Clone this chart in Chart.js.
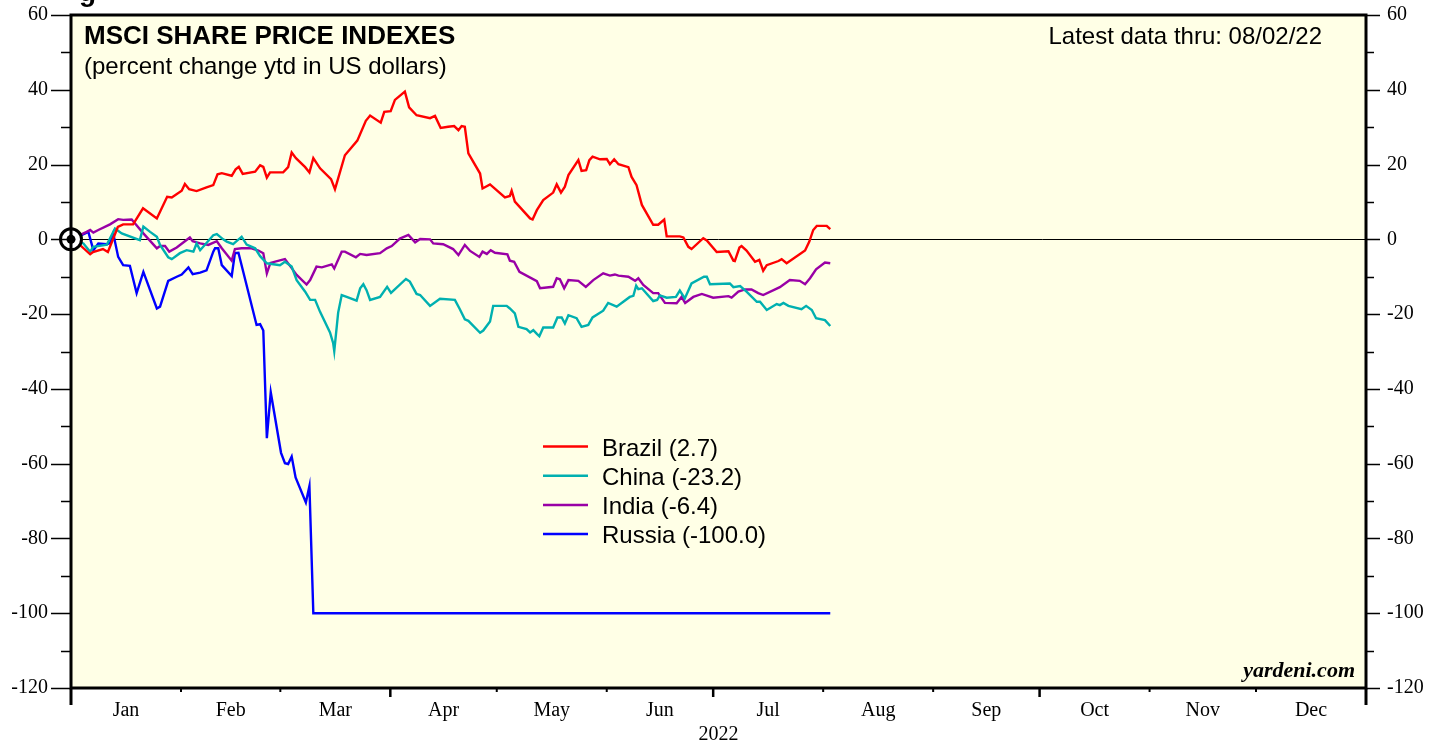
<!DOCTYPE html>
<html>
<head>
<meta charset="utf-8">
<script src="https://cdn.jsdelivr.net/npm/chart.js@4/dist/chart.umd.min.js"></script>
<style>
html,body{margin:0;padding:0;background:#ffffff;}
#wrap{width:1442px;height:744px;position:relative;}
</style>
</head>
<body>
<div id="wrap"><canvas id="c"></canvas></div>
<script>
// ---- data (x = day of year 2022, Jan 1 = 0) ----
const monthLabels = ['Jan','Feb','Mar','Apr','May','Jun','Jul','Aug','Sep','Oct','Nov','Dec'];
const monthStarts = [0,31,59,90,120,151,181,212,243,273,304,334,365];
const yearLabel = '2022';

const seriesNames = ['Brazil','China','India','Russia'];
const lastValues = [2.7,-23.2,-6.4,-100.0];
const seriesColors = ['#ff0000','#00b0b0','#9900a6','#0000ff'];

const brazilDays = [0,2.5,5.4,6.2,9.0,10.4,13.2,14.7,17.5,20.3,24.2,27.1,28.4,31.2,32.1,33.3,35.4,38.2,40.1,41.3,42.5,45.3,46.4,47.3,48.4,51.9,53.3,54.2,55.2,56.1,59.8,61.2,62.2,63.4,66.0,67.2,68.3,70.2,73.3,74.4,75.3,77.2,80.7,83.1,84.3,87.3,88.3,90.1,91.3,94.1,95.3,97.4,101.2,102.6,104.2,106.3,108.0,109.2,110.1,111.0,112.0,115.3,116.0,118.1,122.3,123.7,124.2,125.1,129.4,130.1,131.3,133.1,135.9,136.9,138.1,139.2,140.2,143.0,143.9,145.2,146.1,147.0,149.1,151.0,151.9,153.1,154.3,157.1,158.0,159.4,160.9,164.1,165.5,167.2,167.9,171.6,172.6,174.0,174.9,178.2,179.2,182.0,185.3,186.7,187.1,188.4,189.0,190.4,192.8,194.0,195.1,196.1,199.4,200.3,201.7,206.9,208.1,209.2,210.2,213.0,214.0];
const brazilValues = [0,-1.5,-4.0,-3.4,-2.6,-3.4,3.3,4.0,4.0,8.3,5.6,11.4,11.2,13.0,14.8,13.4,12.9,13.9,14.5,17.4,17.7,17.0,18.7,19.4,17.5,18.1,19.8,19.4,16.5,17.9,17.9,19.3,23.2,21.7,19.3,17.9,21.7,19.0,16.1,13.4,16.3,22.5,26.4,31.7,33.1,31.2,34.1,34.3,37.3,39.5,35.3,33.2,32.4,33.0,29.8,30.1,30.3,29.2,30.3,30.1,23.0,17.6,13.6,14.7,11.2,11.6,13.0,10.1,5.6,5.3,7.8,10.5,12.5,14.7,12.5,14.1,17.2,21.2,18.3,18.5,21.2,22.1,21.4,21.5,20.1,21.4,20.1,19.3,16.7,14.5,9.2,3.9,3.9,5.3,0.8,0.8,0.5,-2.0,-2.6,0.3,-0.3,-3.4,-3.2,-5.7,-5.8,-2.2,-1.8,-3.0,-6.0,-5.5,-8.4,-6.9,-5.8,-5.3,-6.4,-3.0,-0.6,2.5,3.6,3.6,2.7];

const chinaDays = [0,3.5,5.4,6.3,10.1,12.4,14.3,19.4,20.4,22.3,24.2,25.1,27.4,28.4,30.7,32.6,34.5,35.4,36.4,40.1,41.1,42.9,43.9,45.7,48.1,49.5,51.9,53.3,55.2,58.9,60.3,62.2,63.6,66.0,67.4,68.8,70.2,73.0,73.9,74.2,75.3,76.3,77.7,80.5,81.5,82.4,83.3,84.3,87.1,89.1,90.2,94.4,95.5,97.4,98.4,101.2,104.0,108.2,109.6,111.0,112.0,115.3,116.2,118.1,119.0,122.8,123.7,125.1,126.1,128.4,129.4,130.3,131.3,132.0,133.1,135.9,137.1,138.3,139.2,140.2,142.5,143.9,145.8,147.0,150.0,151.4,153.8,157.5,158.5,159.3,159.9,160.9,164.1,165.2,166.0,167.9,170.5,171.6,173.0,174.9,178.4,179.2,180.1,185.7,186.7,188.6,190.4,193.3,194.2,196.1,198.9,199.8,200.8,202.2,205.9,207.2,208.8,210.0,212.5,214.0];
const chinaValues = [0,-1.1,-3.3,-2.0,-1.4,2.9,1.6,-0.2,3.4,2.0,0.7,-1.5,-4.8,-5.3,-3.7,-2.9,-3.3,-1.1,-2.9,1.1,1.4,0.0,-0.6,-1.3,0.7,-1.4,-2.4,-4.5,-6.4,-6.9,-6.0,-7.3,-10.9,-14.0,-16.2,-16.2,-19.4,-24.9,-27.8,-29.9,-19.6,-14.9,-15.4,-16.4,-13.1,-12.0,-13.6,-16.2,-15.4,-12.7,-14.3,-10.6,-11.3,-14.6,-14.9,-17.8,-15.9,-16.2,-18.7,-21.4,-21.8,-25.0,-24.4,-22.0,-17.8,-17.8,-18.5,-19.8,-23.4,-24.0,-24.9,-24.3,-25.3,-25.9,-23.6,-23.6,-20.9,-20.9,-22.5,-20.3,-21.1,-23.4,-22.9,-20.9,-19.1,-17.0,-18.0,-15.4,-15.1,-12.4,-13.3,-13.1,-16.5,-16.2,-15.0,-15.6,-15.4,-13.7,-15.8,-11.8,-10.0,-10.0,-12.0,-11.8,-12.8,-12.5,-14.0,-16.7,-16.7,-18.9,-17.3,-17.6,-17.0,-17.8,-18.7,-17.8,-18.9,-21.1,-21.6,-23.2];

const indiaDays = [0,4.4,5.4,6.3,7.7,11.0,13.3,14.7,17.1,18.0,20.4,24.2,25.1,26.5,27.7,29.8,33.5,34.3,36.4,38.7,41.1,42.5,45.3,46.2,48.1,50.9,52.8,54.2,55.2,56.2,59.4,60.3,62.2,63.6,66.4,67.4,69.2,70.7,73.5,74.2,76.3,77.2,80.3,81.5,83.3,87.1,89.0,90.4,92.7,95.1,97.0,98.4,101.2,102.1,104.9,107.7,109.2,111.0,112.5,115.1,116.0,117.2,118.3,119.5,123.0,123.7,124.9,126.4,131.3,132.2,135.9,136.9,137.8,139.0,140.2,143.0,145.1,147.2,150.0,151.9,153.3,154.3,157.1,159.0,159.9,161.3,164.1,165.5,167.4,170.7,172.1,173.1,175.4,177.8,181.0,185.3,186.2,188.1,190.0,191.8,193.7,195.1,199.8,202.6,205.4,206.9,208.3,210.0,212.5,214.0];
const indiaValues = [0,2.0,2.5,1.8,2.5,4.0,5.4,5.2,5.3,4.3,1.6,-2.4,-1.8,-1.8,-3.3,-2.2,0.5,-0.5,-1.1,-1.5,-0.5,-2.4,-5.7,-2.6,-2.4,-2.4,-3.0,-3.7,-9.1,-6.3,-5.5,-5.3,-7.7,-9.5,-12.1,-10.9,-7.3,-7.5,-6.7,-7.8,-3.3,-3.3,-4.8,-3.9,-4.2,-3.7,-2.4,-1.8,0.2,1.2,-0.8,0.1,0.0,-1.1,-1.3,-2.6,-4.2,-1.5,-3.1,-4.7,-3.3,-3.9,-2.9,-3.6,-4.0,-5.7,-6.0,-8.7,-11.2,-13.1,-12.7,-10.4,-10.7,-13.1,-10.9,-11.1,-12.7,-10.9,-9.1,-9.7,-9.4,-9.7,-10.0,-11.1,-10.4,-12.2,-14.4,-14.4,-17.0,-17.1,-15.4,-17.0,-15.4,-14.6,-15.6,-15.2,-15.6,-14.0,-13.4,-13.4,-14.4,-14.9,-12.8,-10.9,-11.1,-12.0,-10.4,-8.0,-6.2,-6.4];

const russiaDays = [0,2.5,4.9,6.3,7.7,10.1,11.0,11.9,13.3,14.7,16.6,18.5,20.4,24.2,25.1,27.4,29.8,31.2,33.1,34.3,36.4,38.2,40.1,40.6,41.5,42.5,45.3,46.2,47.2,52.3,53.3,54.2,55.2,56.3,59.2,60.3,61.2,62.2,63.3,66.2,67.2,68.3,214.0];
const russiaValues = [0,0.9,2.0,-2.9,-1.1,-1.3,-1.0,1.6,-4.7,-6.9,-7.1,-14.4,-8.7,-18.5,-18.0,-11.1,-10.0,-9.4,-7.5,-9.3,-8.9,-8.3,-3.3,-2.4,-2.4,-6.9,-9.8,-3.7,-3.6,-22.9,-22.7,-24.4,-53.2,-40.9,-57.1,-59.9,-60.1,-58.1,-63.7,-70.4,-66.0,-100.0,-100.0];

const yMin = -120, yMax = 60, yStep = 20, yMinorStep = 10;
const xMin = 0, xMax = 365;

// ---- styling ----
const PLOT_BG = '#ffffe6';
const SERIF = '"Liberation Serif", "Times New Roman", serif';
const SANS = '"Liberation Sans", Arial, sans-serif';

const allDays = [brazilDays, chinaDays, indiaDays, russiaDays];
const allValues = [brazilValues, chinaValues, indiaValues, russiaValues];
const monthMids = monthLabels.map((m,i)=> (monthStarts[i]+monthStarts[i+1])/2);

const datasets = seriesNames.map((name,i)=>({
  label: name + ' (' + lastValues[i].toFixed(1) + ')',
  data: allDays[i].map((d,j)=>({x:d, y:allValues[i][j]})),
  borderColor: seriesColors[i],
  backgroundColor: seriesColors[i],
  borderWidth: 2.4,
  pointRadius: 0,
  tension: 0,
  fill: false,
  yAxisID: 'y'
}));

function fixVertical(width){
  return function(s){ s.width = width; s.paddingTop = 0; s.paddingBottom = 0; };
}

const decor = {
  id: 'decor',
  beforeDraw(chart){
    const {ctx, chartArea:a} = chart;
    ctx.save();
    ctx.fillStyle = PLOT_BG;
    ctx.fillRect(a.left, a.top, a.right-a.left, a.bottom-a.top);
    ctx.restore();
  },
  afterDatasetsDraw(chart){
    const {ctx} = chart;
    const xs = chart.scales.x, ys = chart.scales.y;
    const cx = xs.getPixelForValue(0), cy = ys.getPixelForValue(0);
    ctx.save();
    ctx.beginPath(); ctx.arc(cx, cy, 10.5, 0, Math.PI*2);
    ctx.fillStyle = '#ffffff'; ctx.fill();
    ctx.lineWidth = 3; ctx.strokeStyle = '#000'; ctx.stroke();
    ctx.beginPath(); ctx.arc(cx, cy, 4.5, 0, Math.PI*2);
    ctx.fillStyle = '#000'; ctx.fill();
    ctx.restore();
  },
  afterDraw(chart){
    const {ctx, chartArea:a} = chart;
    const xs = chart.scales.x, ys = chart.scales.y;
    ctx.save();
    // frame
    ctx.strokeStyle = '#000';
    ctx.lineWidth = 3;
    ctx.strokeRect(a.left, a.top, a.right-a.left, a.bottom-a.top);
    // y ticks (left and right)
    ctx.lineWidth = 1.5;
    for (let v = yMin; v <= yMax; v += yMinorStep) {
      const y = Math.round(ys.getPixelForValue(v)) + 0.5;
      const major = (v % yStep) === 0;
      ctx.beginPath();
      ctx.moveTo(a.left - (major ? 20 : 10), y); ctx.lineTo(a.left, y);
      ctx.moveTo(a.right, y); ctx.lineTo(a.right + (major ? 14 : 8), y);
      ctx.stroke();
    }
    // x ticks at month boundaries
    monthStarts.forEach((d, i) => {
      const x = xs.getPixelForValue(d);
      let len = 4, lw = 2;
      if (d === xMin || d === xMax) { len = 17; lw = 3; }
      else if (i % 3 === 0) { len = 9; lw = 2.5; }
      ctx.lineWidth = lw;
      ctx.beginPath(); ctx.moveTo(x, a.bottom); ctx.lineTo(x, a.bottom + len); ctx.stroke();
    });
    // titles
    ctx.fillStyle = '#000';
    ctx.textBaseline = 'alphabetic';
    ctx.textAlign = 'left';
    ctx.font = 'bold 28px ' + SANS;
    ctx.fillText('g', 79, 1);
    ctx.font = 'bold 26px ' + SANS;
    ctx.fillText('MSCI SHARE PRICE INDEXES', 84, 44);
    ctx.font = '24px ' + SANS;
    ctx.fillText('(percent change ytd in US dollars)', 84, 74);
    ctx.textAlign = 'right';
    ctx.fillText('Latest data thru: 08/02/22', 1322, 44);
    ctx.font = 'bold italic 22px ' + SERIF;
    ctx.fillText('yardeni.com', 1355, 677);
    // legend
    ctx.textAlign = 'left';
    ctx.font = '24px ' + SANS;
    chart.data.datasets.forEach((ds, i) => {
      const y = 446.5 + i * 29.2;
      ctx.strokeStyle = ds.borderColor;
      ctx.lineWidth = 2.5;
      ctx.beginPath(); ctx.moveTo(543, y); ctx.lineTo(588, y); ctx.stroke();
      ctx.fillStyle = '#000';
      ctx.fillText(ds.label, 602, y + 9);
    });
    ctx.restore();
  }
};

new Chart(document.getElementById('c'), {
  type: 'line',
  data: { datasets },
  plugins: [decor],
  options: {
    responsive: true,
    maintainAspectRatio: false,
    animation: false,
    events: [],
    layout: { padding: { top: 15, left: 0, right: 0, bottom: 0 } },
    plugins: { legend: { display: false }, tooltip: { enabled: false }, title: { display: false } },
    scales: {
      x: {
        type: 'linear', position: 'bottom', min: xMin, max: xMax,
        afterFit(s){ s.height = 56; s.paddingLeft = 0; s.paddingRight = 0; },
        afterBuildTicks(s){ s.ticks = monthMids.map(v => ({ value: v })); },
        grid: { display: false, drawTicks: false },
        border: { display: false },
        ticks: {
          autoSkip: false, maxRotation: 0, minRotation: 0, padding: 11,
          color: '#000', font: { family: SERIF, size: 20 },
          callback: (v, i) => monthLabels[i]
        },
        title: { display: true, text: yearLabel, color: '#000', font: { family: SERIF, size: 20 }, padding: { top: 0, bottom: -3 } }
      },
      y: {
        type: 'linear', position: 'left', min: yMin, max: yMax,
        afterFit: fixVertical(71),
        grid: {
          drawTicks: false, drawOnChartArea: true, lineWidth: 1,
          color: c => (c.tick && c.tick.value === 0) ? '#000000' : 'rgba(0,0,0,0)'
        },
        border: { display: false },
        ticks: { stepSize: yStep, padding: 23, color: '#000', font: { family: SERIF, size: 20 } }
      },
      y2: {
        type: 'linear', position: 'right', min: yMin, max: yMax,
        afterFit: fixVertical(76),
        grid: { display: false, drawTicks: false },
        border: { display: false },
        ticks: { stepSize: yStep, padding: 21, color: '#000', font: { family: SERIF, size: 20 } }
      }
    }
  }
});
</script>
</body>
</html>
